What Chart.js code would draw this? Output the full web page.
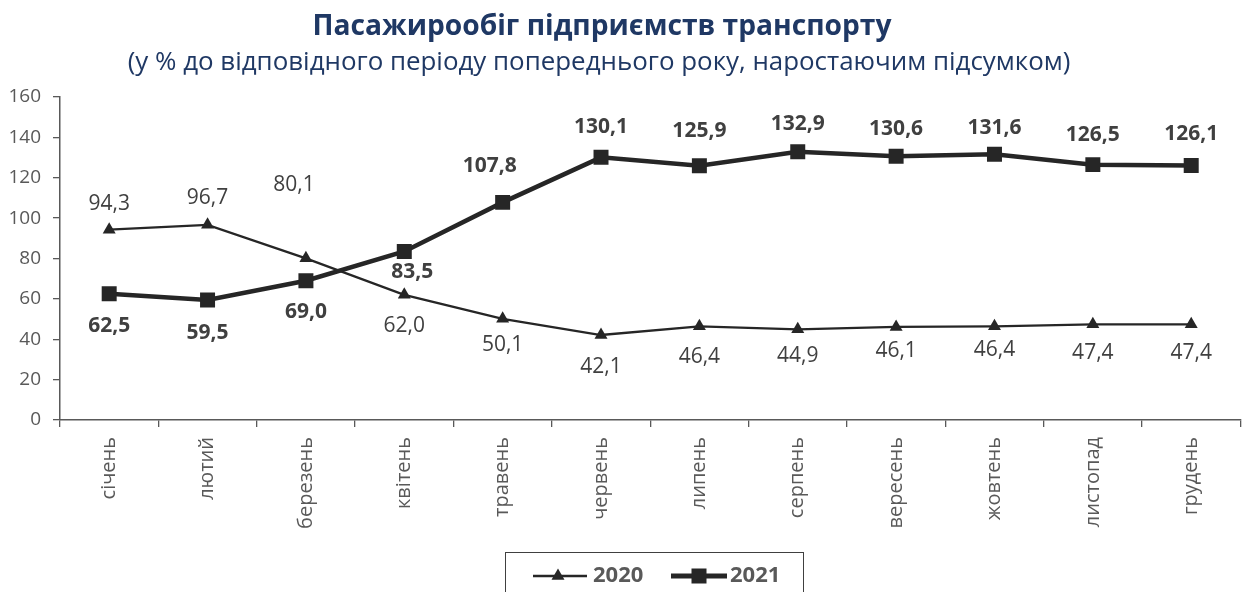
<!DOCTYPE html>
<html>
<head>
<meta charset="utf-8">
<script src="https://cdn.jsdelivr.net/npm/chart.js@4.4.1/dist/chart.umd.min.js"></script>
<style>
  html, body { margin: 0; padding: 0; background: #ffffff; }
  #wrap { width: 1251px; height: 592px; position: relative; }
</style>
</head>
<body>
<div id="wrap"><canvas id="c" width="1251" height="592"></canvas></div>
<script>
const titleText = 'Пасажирообіг підприємств транспорту';
const subtitleText = '(у % до відповідного періоду попереднього року, наростаючим підсумком)';
const months = ['січень', 'лютий', 'березень', 'квітень', 'травень', 'червень', 'липень', 'серпень', 'вересень', 'жовтень', 'листопад', 'грудень'];
const series2020Name = '2020';
const series2021Name = '2021';
const values2020 = [94.3, 96.7, 80.1, 62.0, 50.1, 42.1, 46.4, 44.9, 46.1, 46.4, 47.4, 47.4];
const values2021 = [62.5, 59.5, 69.0, 83.5, 107.8, 130.1, 125.9, 132.9, 130.6, 131.6, 126.5, 126.1];
const yTicks = [0, 20, 40, 60, 80, 100, 120, 140, 160];

// label placement (style only): [dx, dy] in pixels relative to the point
const labelOffsets2020 = [[0,-26],[0,-27],[-12,-73],[0,31],[0,26],[0,32],[0,31],[0,27],[0,24],[0,24],[0,29],[0,29]];
const labelOffsets2021 = [[0,32],[0,33],[0,31],[8,21],[-13,-36],[0,-30],[0,-35],[0,-28],[0,-27],[0,-26],[0,-30],[0,-31]];

const FONT = '"Open Sans", "Noto Sans", sans-serif';
const fmt = v => v.toFixed(1).replace('.', ',');

const labelsPlugin = {
  id: 'valueLabels',
  afterDatasetsDraw(chart) {
    const ctx = chart.ctx;
    ctx.save();
    ctx.textAlign = 'center';
    ctx.textBaseline = 'middle';
    chart.data.datasets.forEach((ds, di) => {
      const meta = chart.getDatasetMeta(di);
      const offs = di === 0 ? labelOffsets2020 : labelOffsets2021;
      ctx.font = (di === 0 ? '' : 'bold ') + '21px ' + FONT;
      ctx.fillStyle = '#404040';
      meta.data.forEach((pt, i) => {
        ctx.fillText(fmt(ds.data[i]), pt.x + offs[i][0], pt.y + offs[i][1]);
      });
    });
    ctx.restore();
  }
};

function fitFont(ctx, text, weight, targetWidth) {
  ctx.font = weight + ' 100px ' + FONT;
  const w = ctx.measureText(text).width;
  return 100 * targetWidth / w;
}

const decorPlugin = {
  id: 'decor',
  afterDraw(chart) {
    const ctx = chart.ctx;
    ctx.save();
    // titles
    ctx.fillStyle = '#1F3864';
    ctx.textAlign = 'center';
    ctx.textBaseline = 'alphabetic';
    let s = fitFont(ctx, titleText, 'bold', 579);
    ctx.font = 'bold ' + s.toFixed(1) + 'px ' + FONT;
    ctx.fillText(titleText, 602, 35);
    s = fitFont(ctx, subtitleText, 'normal', 942);
    ctx.font = 'normal ' + s.toFixed(1) + 'px ' + FONT;
    ctx.fillText(subtitleText, 599, 70);

    // legend box
    ctx.strokeStyle = '#404040';
    ctx.lineWidth = 1;
    ctx.strokeRect(505.5, 552.5, 298, 60);
    const ly = 576;
    ctx.strokeStyle = '#262626';
    ctx.fillStyle = '#262626';
    // 2020 sample
    ctx.lineWidth = 2.3;
    ctx.beginPath(); ctx.moveTo(533, ly); ctx.lineTo(587, ly); ctx.stroke();
    const r = 7.5;
    ctx.beginPath();
    ctx.moveTo(558, ly - r);
    ctx.lineTo(558 + r * Math.sin(2 * Math.PI / 3), ly - r * Math.cos(2 * Math.PI / 3));
    ctx.lineTo(558 + r * Math.sin(4 * Math.PI / 3), ly - r * Math.cos(4 * Math.PI / 3));
    ctx.closePath(); ctx.fill();
    // 2021 sample
    ctx.lineWidth = 5;
    ctx.beginPath(); ctx.moveTo(671, ly); ctx.lineTo(727, ly); ctx.stroke();
    ctx.fillRect(699 - 7.5, ly - 7.5, 15, 15);
    ctx.fillStyle = '#595959';
    ctx.font = 'bold 22px ' + FONT;
    ctx.textAlign = 'left';
    ctx.textBaseline = 'middle';
    ctx.fillText(series2020Name, 593, ly);
    ctx.fillText(series2021Name, 730, ly);
    ctx.restore();
  }
};

new Chart(document.getElementById('c'), {
  type: 'line',
  data: {
    labels: months,
    datasets: [
      {
        label: series2020Name,
        data: values2020,
        borderColor: '#262626',
        backgroundColor: '#262626',
        borderWidth: 2.3,
        pointStyle: 'triangle',
        pointRadius: 7.5,
        pointBorderWidth: 0,
        pointBackgroundColor: '#262626',
        tension: 0,
        order: 2
      },
      {
        label: series2021Name,
        data: values2021,
        borderColor: '#262626',
        backgroundColor: '#262626',
        borderWidth: 4.5,
        pointStyle: 'rect',
        pointRadius: 10.6,
        pointBorderWidth: 0,
        pointBackgroundColor: '#262626',
        tension: 0,
        order: 1
      }
    ]
  },
  options: {
    responsive: false,
    animation: false,
    devicePixelRatio: 1,
    layout: { padding: { top: 97, right: 4, left: 0, bottom: 0 } },
    plugins: {
      legend: { display: false },
      title: { display: false },
      tooltip: { enabled: false }
    },
    scales: {
      x: {
        type: 'category',
        offset: true,
        afterFit(scale) { scale.height = 172; },
        grid: {
          display: true,
          offset: true,
          drawOnChartArea: false,
          drawTicks: true,
          tickLength: 7,
          color: '#595959',
          lineWidth: 1.3
        },
        border: { display: true, color: '#595959', width: 1.5 },
        ticks: {
          autoSkip: false,
          maxRotation: 90,
          minRotation: 90,
          padding: 10,
          color: '#595959',
          font: { family: FONT, size: 20 }
        }
      },
      y: {
        min: 0,
        max: 160,
        afterFit(scale) { scale.width = 60; },
        afterBuildTicks(scale) { scale.ticks = yTicks.map(v => ({ value: v })); },
        grid: {
          display: true,
          drawOnChartArea: false,
          drawTicks: true,
          tickLength: 7,
          color: '#595959',
          lineWidth: 1.3
        },
        border: { display: true, color: '#595959', width: 1.5 },
        ticks: {
          padding: 12,
          color: '#595959',
          font: { family: FONT, size: 19 }
        }
      }
    }
  },
  plugins: [labelsPlugin, decorPlugin]
});
</script>
</body>
</html>
